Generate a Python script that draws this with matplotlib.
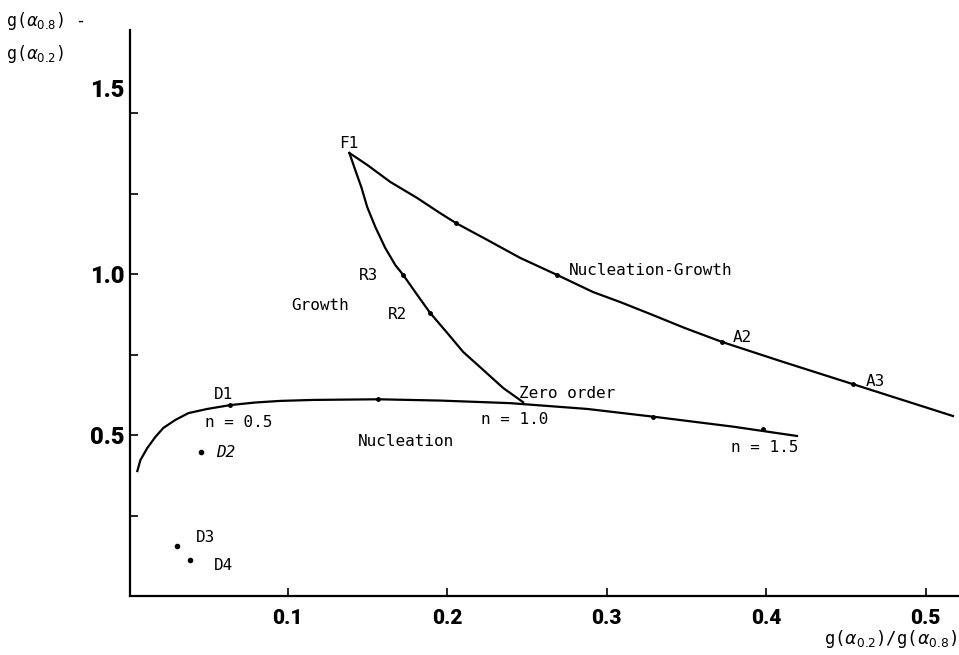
import matplotlib
matplotlib.use("Agg")
import matplotlib.pyplot as plt
import matplotlib.transforms as mtransforms

# upper branch: F1 -> A2 -> A3 (nucleation-growth)
ng_x = [0.1386, 0.1498, 0.1643, 0.1812, 0.1956, 0.2056, 0.2251, 0.2458, 0.2690,
        0.2915, 0.3085, 0.3273, 0.3492, 0.3724, 0.4107, 0.4545, 0.5172]
ng_y = [1.376, 1.339, 1.286, 1.236, 1.189, 1.158, 1.106, 1.050, 0.997,
        0.944, 0.913, 0.876, 0.832, 0.789, 0.727, 0.658, 0.559]
ng_dot_x = [0.2056, 0.2690, 0.3724, 0.4545]
ng_dot_y = [1.158, 0.997, 0.789, 0.658]

# growth branch: F1 -> R3 -> R2 -> zero order
gr_x = [0.1386, 0.1423, 0.1461, 0.1498, 0.1549, 0.1611, 0.1674, 0.1724, 0.1812,
        0.1893, 0.2000, 0.2100, 0.2226, 0.2351, 0.2476]
gr_y = [1.376, 1.323, 1.270, 1.208, 1.146, 1.081, 1.028, 0.997, 0.935,
        0.879, 0.817, 0.758, 0.702, 0.646, 0.602]
gr_dot_x = [0.1724, 0.1893]
gr_dot_y = [0.997, 0.879]

# nucleation branch: n = 0.5 ... n = 1.5
nu_x = [0.0056, 0.0075, 0.0119, 0.0169, 0.0219, 0.0295, 0.0376, 0.0495, 0.0639, 0.0796,
        0.0953, 0.1160, 0.1567, 0.1956, 0.2395, 0.2878, 0.3292, 0.3793, 0.4194]
nu_y = [0.388, 0.422, 0.460, 0.494, 0.522, 0.547, 0.568, 0.581, 0.593, 0.601,
        0.606, 0.609, 0.611, 0.607, 0.599, 0.581, 0.557, 0.526, 0.497]
nu_dot_x = [0.0639, 0.1567, 0.3292, 0.3981]
nu_dot_y = [0.593, 0.611, 0.557, 0.518]

# diffusion models
d_x = [0.0458, 0.0307, 0.0389]
d_y = [0.447, 0.155, 0.112]

x_ticks = [0.1, 0.2, 0.3, 0.4, 0.5]
x_ticklabels = ["0.1", "0.2", "0.3", "0.4", "0.5"]
y_ticks = [0.25, 0.5, 0.75, 1.0, 1.25, 1.5]
y_ticklabels = ["", "0.5", "", "1.0", "", "1.5"]

BOLD = ["Roboto", "DejaVu Sans"]
MONO = "DejaVu Sans Mono"

fig = plt.figure(figsize=(9.59, 6.55), dpi=100)
ax = fig.add_axes([130 / 959, 1 - 596 / 655, 829 / 959, 566 / 655])

ax.plot(ng_x, ng_y, color="black", lw=1.6)
ax.plot(gr_x, gr_y, color="black", lw=1.6)
ax.plot(nu_x, nu_y, color="black", lw=1.6)
ax.plot(ng_dot_x + gr_dot_x + nu_dot_x, ng_dot_y + gr_dot_y + nu_dot_y,
        "o", color="black", ms=2.5)
ax.plot(d_x, d_y, "o", color="black", ms=3)

ax.set_xlim(0.001, 0.521)
ax.set_ylim(0, 1.758)

for s in ["top", "right"]:
    ax.spines[s].set_visible(False)
for s in ["left", "bottom"]:
    ax.spines[s].set_linewidth(1.6)

ax.set_xticks(x_ticks)
ax.set_xticklabels(x_ticklabels, fontfamily=BOLD, fontweight="heavy", fontsize=15)
ax.set_yticks(y_ticks)
ax.set_yticklabels(y_ticklabels, fontfamily=BOLD, fontweight="heavy", fontsize=17)
ax.tick_params(axis="both", direction="in", length=6, width=1.2)
ax.tick_params(axis="x", pad=9)
ax.tick_params(axis="y", pad=4)

# the 1.5 label sits a little above its tick in the original
for lab in ax.get_yticklabels():
    if lab.get_text() == "1.5":
        lab.set_transform(lab.get_transform() + mtransforms.ScaledTranslation(0, 18 / 72, fig.dpi_scale_trans))

kw = dict(fontfamily=MONO, fontsize=11.5, ha="center", va="center")
ax.text(0.1379, 1.407, "F1", **kw)
ax.text(0.1505, 0.997, "R3", **kw)
ax.text(0.1204, 0.901, "Growth", **kw)
ax.text(0.1687, 0.873, "R2", **kw)
ax.text(0.3279, 1.012, "Nucleation-Growth", **kw)
ax.text(0.3850, 0.804, "A2", **kw)
ax.text(0.4683, 0.665, "A3", **kw)
ax.text(0.2752, 0.630, "Zero order", **kw)
ax.text(0.2426, 0.547, "n = 1.0", **kw)
ax.text(0.3994, 0.460, "n = 1.5", **kw)
ax.text(0.1743, 0.481, "Nucleation", **kw)
ax.text(0.0596, 0.627, "D1", **kw)
ax.text(0.0690, 0.540, "n = 0.5", **kw)
ax.text(0.0608, 0.447, "D2", style="italic", **kw)
ax.text(0.0483, 0.183, "D3", **kw)
ax.text(0.0596, 0.096, "D4", **kw)

fig.text(0.006, 0.985, r"g($\alpha_{0.8}$) -" + "\n" + r"g($\alpha_{0.2}$)",
         fontfamily=MONO, fontsize=12, ha="left", va="top", linespacing=1.7)
fig.text(0.998, 0.008, r"g($\alpha_{0.2}$)/g($\alpha_{0.8}$)",
         fontfamily=MONO, fontsize=12.5, ha="right", va="bottom")

fig.savefig("out.png", dpi=100)
